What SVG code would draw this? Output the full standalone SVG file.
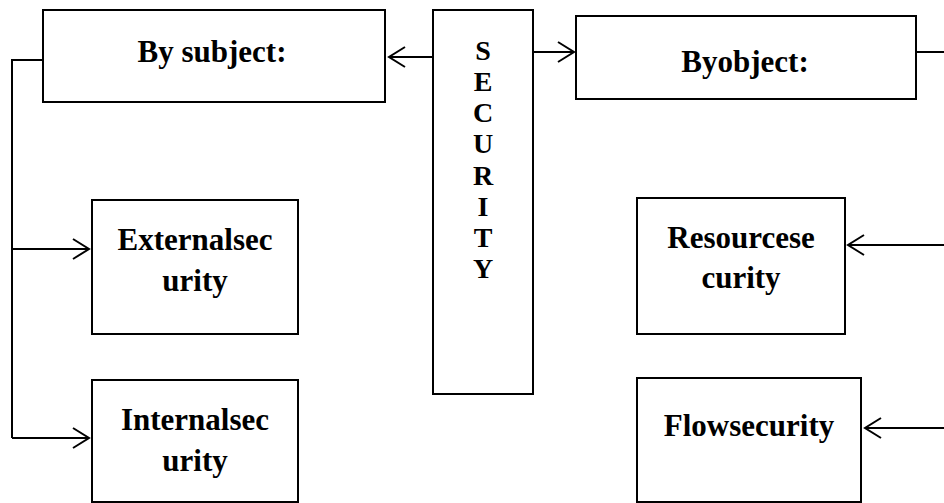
<svg xmlns="http://www.w3.org/2000/svg" width="944" height="503" viewBox="0 0 944 503">
<style>
.box{fill:#fff;stroke:#000;stroke-width:2}
.ln{fill:none;stroke:#000;stroke-width:2}
.t{font-family:"Liberation Serif","Times New Roman",serif;font-weight:bold;font-size:31px;text-anchor:middle;fill:#000}
.v{font-family:"Liberation Serif","Times New Roman",serif;font-weight:bold;font-size:28px;text-anchor:middle;fill:#000}
</style>
<defs>
<marker id="arr" markerWidth="20" markerHeight="24" refX="18" refY="11" orient="auto" markerUnits="userSpaceOnUse">
<path d="M2,1 L18,11 L2,21" fill="none" stroke="#000" stroke-width="2"/>
</marker>
</defs>
<rect width="944" height="503" fill="#fff"/>
<g id="connectors">
<line class="ln" x1="433" y1="57" x2="389" y2="57" marker-end="url(#arr)"/>
<line class="ln" x1="533" y1="52" x2="574" y2="52" marker-end="url(#arr)"/>
<line class="ln" x1="916" y1="52" x2="944" y2="52"/>
<polyline class="ln" points="43,60 12,60 12,438"/>
<line class="ln" x1="12" y1="249" x2="89" y2="249" marker-end="url(#arr)"/>
<line class="ln" x1="12" y1="438" x2="89" y2="438" marker-end="url(#arr)"/>
<line class="ln" x1="944" y1="245" x2="848" y2="245" marker-end="url(#arr)"/>
<line class="ln" x1="944" y1="428" x2="865" y2="428" marker-end="url(#arr)"/>
</g>
<g id="security">
<rect class="box" x="433" y="10" width="100" height="384"/>
<text class="v" x="483" y="60">S</text>
<text class="v" x="483" y="91">E</text>
<text class="v" x="483" y="122">C</text>
<text class="v" x="483" y="153">U</text>
<text class="v" x="483" y="185">R</text>
<text class="v" x="483" y="216">I</text>
<text class="v" x="483" y="247">T</text>
<text class="v" x="483" y="278">Y</text>
</g>
<g id="by-subject">
<rect class="box" x="43" y="10" width="342" height="92"/>
<text class="t" x="212" y="62">By subject:</text>
</g>
<g id="by-object">
<rect class="box" x="576" y="16" width="340" height="83"/>
<text class="t" x="745" y="72">Byobject:</text>
</g>
<g id="external">
<rect class="box" x="92" y="200" width="206" height="134"/>
<text class="t" x="195" y="250">Externalsec</text>
<text class="t" x="195" y="291">urity</text>
</g>
<g id="internal">
<rect class="box" x="92" y="380" width="206" height="122"/>
<text class="t" x="195" y="430">Internalsec</text>
<text class="t" x="195" y="471">urity</text>
</g>
<g id="resource">
<rect class="box" x="637" y="198" width="208" height="136"/>
<text class="t" x="741" y="248">Resourcese</text>
<text class="t" x="741" y="288">curity</text>
</g>
<g id="flow">
<rect class="box" x="637" y="378" width="224" height="124"/>
<text class="t" x="749" y="436">Flowsecurity</text>
</g>
</svg>
